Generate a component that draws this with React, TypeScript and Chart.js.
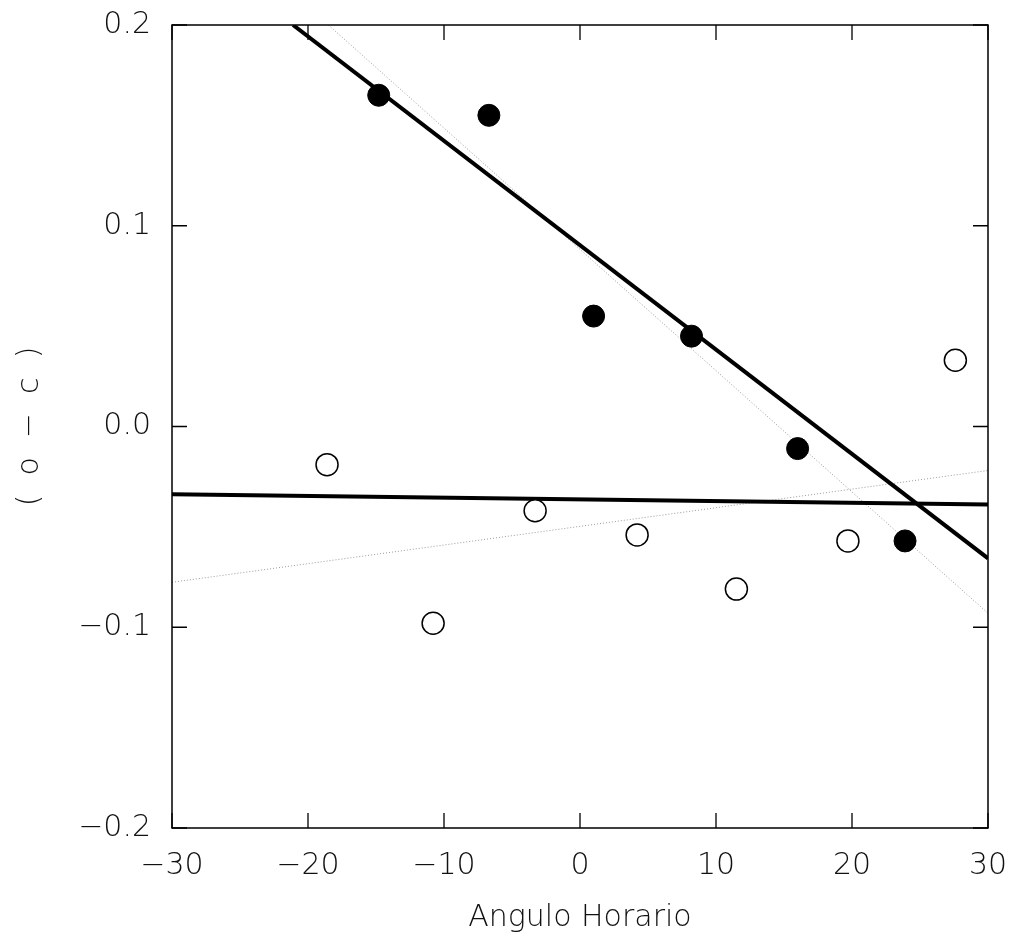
import React, { useEffect, useRef } from "react";
import { Chart, registerables } from "chart.js";

Chart.register(...registerables);

// Filled circles (hour angle, o - c)
const filledX = [-14.8, -6.7, 1.0, 8.2, 16.0, 23.9];
const filledY = [0.165, 0.155, 0.055, 0.045, -0.011, -0.057];

// Open circles
const openX = [-18.6, -10.8, -3.3, 4.2, 11.5, 19.7, 27.6];
const openY = [-0.019, -0.098, -0.042, -0.054, -0.081, -0.057, 0.033];

// Fit lines (endpoints)
const thickSteepX = [-21.1, 30];
const thickSteepY = [0.2, -0.0657];
const thickFlatX = [-30, 30];
const thickFlatY = [-0.0338, -0.0388];
const thinSteepX = [-18.5, 30];
const thinSteepY = [0.2, -0.093];
const thinFlatX = [-30, 30];
const thinFlatY = [-0.0776, -0.0219];

const xTicks = [-30, -20, -10, 0, 10, 20, 30];
const yTicks = [-0.2, -0.1, 0.0, 0.1, 0.2];

const toPts = (xs: number[], ys: number[]) => xs.map((x, i) => ({ x, y: ys[i] }));
const fmt = (v: number, d: number) => v.toFixed(d).replace("-", "\u2212");

const FONT = "'DejaVu Sans', sans-serif";
const W = 200;

const framePlugin = {
  id: "frameTicks",
  afterDraw(chart: any) {
    const { ctx, chartArea } = chart;
    const { left, right, top, bottom } = chartArea;
    const xs = chart.scales.x;
    const ys = chart.scales.y;
    const L = 15;
    ctx.save();
    ctx.strokeStyle = "#000";
    ctx.lineWidth = 1.5;
    ctx.beginPath();
    ctx.rect(left, top, right - left, bottom - top);
    ctx.stroke();
    ctx.lineWidth = 1.3;
    ctx.beginPath();
    xTicks.forEach((v) => {
      const px = xs.getPixelForValue(v);
      ctx.moveTo(px, bottom);
      ctx.lineTo(px, bottom - L);
      ctx.moveTo(px, top);
      ctx.lineTo(px, top + L);
    });
    yTicks.forEach((v) => {
      const py = ys.getPixelForValue(v);
      ctx.moveTo(left, py);
      ctx.lineTo(left + L, py);
      ctx.moveTo(right, py);
      ctx.lineTo(right - L, py);
    });
    ctx.stroke();
    ctx.restore();
  },
};

const zeroPad = (s: any) => {
  s.paddingTop = 0;
  s.paddingBottom = 0;
  s.paddingLeft = 0;
  s.paddingRight = 0;
};

export default function App() {
  const ref = useRef<HTMLCanvasElement>(null);
  useEffect(() => {
    if (!ref.current) return;
    const chart = new Chart(ref.current, {
      type: "scatter",
      data: {
        datasets: [
          {
            label: "filled",
            data: toPts(filledX, filledY),
            pointRadius: 11,
            pointBackgroundColor: "#000",
            pointBorderColor: "#000",
            pointBorderWidth: 1,
            showLine: false,
            order: 0,
          },
          {
            label: "open",
            data: toPts(openX, openY),
            pointRadius: 11,
            pointBackgroundColor: "#fff",
            pointBorderColor: "#000",
            pointBorderWidth: 1.5,
            showLine: false,
            order: 0,
          },
          {
            label: "thickSteep",
            data: toPts(thickSteepX, thickSteepY),
            showLine: true,
            borderColor: "#000",
            borderWidth: 4,
            pointRadius: 0,
            order: 1,
          },
          {
            label: "thickFlat",
            data: toPts(thickFlatX, thickFlatY),
            showLine: true,
            borderColor: "#000",
            borderWidth: 4,
            pointRadius: 0,
            order: 1,
          },
          {
            label: "thinSteep",
            data: toPts(thinSteepX, thinSteepY),
            showLine: true,
            borderColor: "#999",
            borderWidth: 1,
            borderDash: [1, 2],
            pointRadius: 0,
            order: 2,
          },
          {
            label: "thinFlat",
            data: toPts(thinFlatX, thinFlatY),
            showLine: true,
            borderColor: "#999",
            borderWidth: 1,
            borderDash: [1, 2],
            pointRadius: 0,
            order: 2,
          },
        ],
      },
      options: {
        animation: false,
        responsive: false,
        layout: { padding: { top: 25, right: 24, left: 0, bottom: 0 } },
        plugins: {
          legend: { display: false },
          tooltip: { enabled: false },
          title: { display: false },
        },
        scales: {
          x: {
            type: "linear",
            min: -30,
            max: 30,
            grid: { display: false },
            border: { display: false },
            afterFit: (s: any) => {
              s.height = 122;
              zeroPad(s);
            },
            afterBuildTicks: (s: any) => {
              s.ticks = xTicks.map((v) => ({ value: v }));
            },
            ticks: {
              padding: 12,
              color: "#111",
              font: { family: FONT, size: 30, weight: W },
              callback: (v: any) => fmt(Number(v), 0),
            },
            title: {
              display: true,
              text: "Angulo Horario",
              color: "#111",
              font: { family: FONT, size: 30, weight: W },
              padding: { top: 0, bottom: 14 },
            },
          },
          y: {
            type: "linear",
            min: -0.2,
            max: 0.2,
            grid: { display: false },
            border: { display: false },
            afterFit: (s: any) => {
              s.width = 172;
              zeroPad(s);
            },
            afterBuildTicks: (s: any) => {
              s.ticks = yTicks.map((v) => ({ value: v }));
            },
            ticks: {
              padding: 13,
              color: "#111",
              font: { family: FONT, size: 30, weight: W },
              callback: (v: any) => fmt(Number(v), 1),
            },
            title: {
              display: true,
              text: "(  o  \u2212  c  )",
              color: "#111",
              font: { family: FONT, size: 30, weight: W },
              padding: { top: 12, bottom: 0 },
            },
          },
        },
      },
      plugins: [framePlugin],
    });
    return () => chart.destroy();
  }, []);
  return (
    <div style={{ position: "absolute", left: 0, top: 0, width: 1012, height: 950, background: "#fff" }}>
      <canvas ref={ref} width={1012} height={950} style={{ display: "block" }} />
    </div>
  );
}
